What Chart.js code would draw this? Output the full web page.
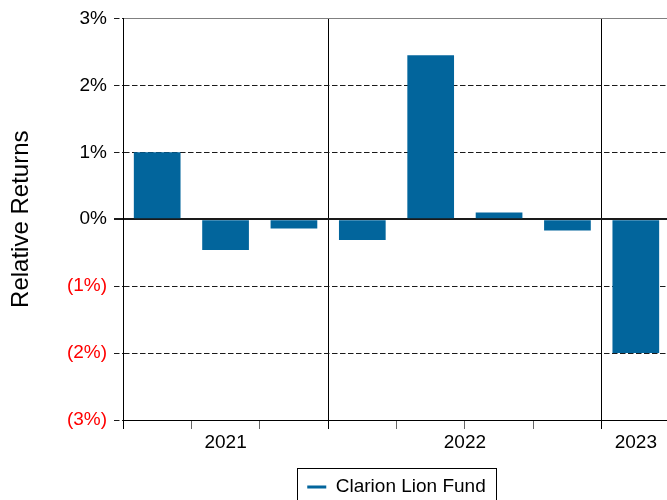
<!DOCTYPE html>
<html>
<head>
<meta charset="utf-8">
<script src="https://cdn.jsdelivr.net/npm/chart.js@4.4.1/dist/chart.umd.min.js"></script>
<style>
html,body{margin:0;padding:0;background:#fff;overflow:hidden;width:667px;height:500px;}
#wrap{position:absolute;left:0;top:0;width:690px;height:540px;}
canvas{display:block;}
</style>
</head>
<body>
<div id="wrap"><canvas id="c" width="690" height="540" style="width:690px;height:540px;"></canvas></div>
<script>
// ---- data ----
const quarters = ['Q2 2021', 'Q3 2021', 'Q4 2021', 'Q1 2022', 'Q2 2022', 'Q3 2022', 'Q4 2022', 'Q1 2023'];
const quarterYears = ['2021', '2021', '2021', '2022', '2022', '2022', '2022', '2023'];
const relativeReturns = [1.00, -0.46, -0.14, -0.31, 2.45, 0.10, -0.17, -2.00];
const yTickValues = [-3, -2, -1, 0, 1, 2, 3];
const seriesName = 'Clarion Lion Fund';
const axisTitle = 'Relative Returns';

// ---- derived helpers ----
const barColor = '#02659c';
const yearNames = [];
const yearCenters = [];
const yearBoundaries = [];
quarterYears.forEach((yr, i) => {
  if (i === 0 || yr !== quarterYears[i - 1]) {
    if (i > 0) yearBoundaries.push(i);
    yearNames.push(yr);
    yearCenters.push({start: i, count: 0});
  }
  yearCenters[yearCenters.length - 1].count++;
});
const yearTickValues = yearCenters.map(g => g.start + g.count / 2);
const fmtPct = v => v < 0 ? '(' + (-v) + '%)' : v + '%';
const DASH = [5.5, 2.5];

Chart.defaults.font.family = "'Liberation Sans', Arial, Helvetica, sans-serif";
Chart.defaults.color = '#000';

const legendFrame = {
  id: 'legendFrame',
  afterDraw(chart) {
    const lg = chart.legend;
    if (!lg || !lg.legendHitBoxes || !lg.legendHitBoxes.length) return;
    const hb = lg.legendHitBoxes[0];
    const ctx = chart.ctx;
    ctx.save();
    ctx.strokeStyle = '#000';
    ctx.lineWidth = 1;
    const l = Math.round(hb.left - 10) + 0.5;
    const r = Math.round(hb.left + hb.width + 10) + 0.5;
    const t = Math.round(hb.top - 9.5) + 0.5;
    const b = Math.round(hb.top + hb.height + 20) + 0.5;
    ctx.strokeRect(l, t, r - l, b - t);
    ctx.restore();
  }
};

new Chart(document.getElementById('c'), {
  type: 'bar',
  data: {
    labels: quarters,
    datasets: [{
      label: seriesName,
      data: relativeReturns,
      backgroundColor: barColor,
      borderWidth: 0,
      barPercentage: 0.683,
      categoryPercentage: 1.0,
      xAxisID: 'x',
      yAxisID: 'y'
    }]
  },
  options: {
    responsive: false,
    animation: false,
    layout: {padding: {top: 17, right: 20, bottom: 33.5, left: 0}},
    plugins: {
      tooltip: {enabled: false},
      legend: {
        position: 'bottom',
        fullSize: false,
        align: 'center',
        labels: {
          usePointStyle: true,
          pointStyleWidth: 19,
          boxHeight: 19,
          padding: 4.5,
          color: '#000',
          font: {size: 19},
          generateLabels: () => [{
            text: seriesName,
            fillStyle: barColor,
            strokeStyle: barColor,
            lineWidth: 3,
            pointStyle: 'line',
            hidden: false,
            datasetIndex: 0
          }]
        }
      }
    },
    scales: {
      x: {
        type: 'category',
        position: 'bottom',
        weight: 0,
        offset: true,
        grid: {
          offset: true,
          drawOnChartArea: true,
          color: ctx => yearBoundaries.includes(ctx.index) ? '#000' : 'rgba(0,0,0,0)',
          tickColor: ctx => (ctx.index === 0 || yearBoundaries.includes(ctx.index)) ? '#000' : '#666',
          lineWidth: 1,
          tickWidth: 1,
          tickLength: 9
        },
        border: {color: '#000', width: 1},
        ticks: {display: false}
      },
      x2: {
        type: 'linear',
        position: 'bottom',
        weight: 1,
        offset: false,
        bounds: 'data',
        min: 0,
        max: quarters.length,
        grid: {display: false, drawTicks: false, offset: false},
        border: {display: false},
        afterBuildTicks: axis => { axis.ticks = yearTickValues.map(v => ({value: v})); },
        afterFit: s => { s.height = 44; },
        ticks: {
          padding: 2,
          autoSkip: false,
          maxRotation: 0,
          color: '#000',
          font: {size: 19},
          callback: (v, i) => yearNames[i]
        }
      },
      y: {
        position: 'left',
        min: yTickValues[0],
        max: yTickValues[yTickValues.length - 1],
        afterFit: s => { s.width = 123; },
        afterBuildTicks: axis => { axis.ticks = yTickValues.map(v => ({value: v})); },
        ticks: {
          padding: 7,
          font: {size: 19},
          color: ctx => ctx.tick && ctx.tick.value < 0 ? '#ff0000' : '#000',
          callback: v => fmtPct(v)
        },
        grid: {
          color: ctx => (ctx.tick && ctx.tick.value === yTickValues[yTickValues.length - 1]) ? '#808080' : '#1a1a1a',
          lineWidth: ctx => (ctx.tick && ctx.tick.value === 0) ? 2 : 1,
          tickColor: '#1a1a1a',
          tickWidth: ctx => (ctx.tick && ctx.tick.value === 0) ? 2 : 1,
          tickLength: 9,
          tickBorderDash: ctx => (ctx.tick && ctx.tick.value === 0) ? [] : DASH
        },
        border: {
          color: '#000',
          width: 1,
          dash: ctx => (ctx.tick && ctx.tick.value !== 0 && ctx.tick.value !== yTickValues[yTickValues.length - 1]) ? DASH : []
        },
        title: {
          display: true,
          text: axisTitle,
          color: '#000',
          font: {size: 24},
          padding: {top: 7, bottom: 0}
        }
      }
    }
  },
  plugins: [legendFrame]
});
</script>
</body>
</html>
